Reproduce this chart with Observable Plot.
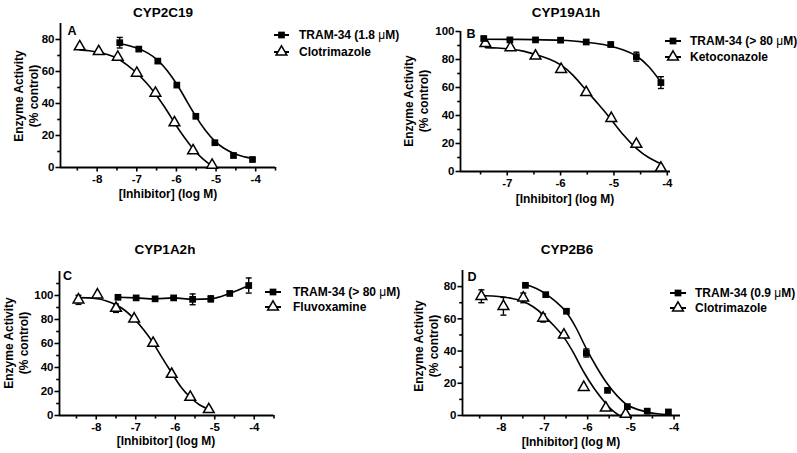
<!DOCTYPE html>
<html><head><meta charset="utf-8">
<script src="https://cdn.jsdelivr.net/npm/d3@7"></script>
<script src="https://cdn.jsdelivr.net/npm/@observablehq/plot@0.6"></script>
<style>
body{margin:0;background:#fff;}
#fig{position:relative;width:797px;height:453px;font-family:"Liberation Sans",Arial,sans-serif;font-weight:bold;color:#000;overflow:hidden;background:#fff}
.t{position:absolute;white-space:nowrap;line-height:1;}
svg{position:absolute;overflow:visible}
</style></head><body><div id="fig"></div>
<script>
// ---------------- DATA ----------------
// Panel A: CYP2C19
const aTramX = [-7.43,-6.95,-6.47,-5.99,-5.51,-5.03,-4.56,-4.08];
const aTramY = [78,74,66.5,51.5,32,15.5,7.5,5];
const aTramErr = [3.3,0,0,0,0,0,0,0];
const aRefX = [-8.44,-7.96,-7.48,-7.0,-6.53,-6.05,-5.58,-5.1];
const aRefY = [75.5,72.5,69,59,46.5,28,10.5,1.5];
const aRefErr = [0,0,0,0,0,0,0,0];
const aTramFitX = [-7.43,-7.19,-6.95,-6.71,-6.47,-6.23,-5.99,-5.75,-5.51,-5.27,-5.03,-4.8,-4.56,-4.32,-4.08];
const aTramFitY = [77.5,76.1,74.2,71.3,67,60.5,52,42,32,23.3,16.5,12,8.9,6.9,5.7];
const aRefFitX = [-8.44,-8.2,-7.96,-7.72,-7.48,-7.24,-7.0,-6.76,-6.53,-6.29,-6.05,-5.82,-5.58,-5.34,-5.1];
const aRefFitY = [73.5,73,72,70.5,68,64,59,53,46,37.5,28,19.5,11.7,5.5,0.8];

// Panel B: CYP19A1h
const bTramX = [-7.44,-6.95,-6.47,-6.0,-5.52,-5.06,-4.58,-4.12];
const bTramY = [95,94,94,93.8,92.5,90.7,82,63.5];
const bTramErr = [1,0.5,0.5,1.2,1.5,1.5,3.2,4.2];
const bRefX = [-7.41,-6.94,-6.47,-5.99,-5.52,-5.05,-4.58,-4.12];
const bRefY = [91.5,88.5,82.5,73,56.5,38,19.5,2.5];
const bRefErr = [1.5,0,0,0,0,0,0,0];
const bTramFitX = [-7.44,-6.95,-6.47,-6.0,-5.76,-5.52,-5.29,-5.06,-4.82,-4.58,-4.35,-4.12];
const bTramFitY = [94.5,94.4,94.2,93.8,93.2,92.3,91.2,89.5,86.8,82.5,75,64];
const bRefFitX = [-7.41,-7.18,-6.94,-6.7,-6.47,-6.23,-5.99,-5.76,-5.52,-5.29,-5.05,-4.82,-4.58,-4.35,-4.12];
const bRefFitY = [88.5,88.2,87.5,86,83.5,80.5,76,68.5,58,48,37,26,16.5,10,5.5];

// Panel C: CYP1A2h
const cTramX = [-7.45,-6.99,-6.51,-6.04,-5.56,-5.1,-4.62,-4.14];
const cTramY = [98.5,98,97.2,98,96.8,97.2,101.7,108.3];
const cTramErr = [1,0.5,0.5,1,4.5,2.5,1.5,6.3];
const cRefX = [-8.45,-7.97,-7.5,-7.04,-6.56,-6.09,-5.62,-5.15];
const cRefY = [96.4,100.6,89.4,80.6,60.3,34.4,15.3,5];
const cRefErr = [3.8,0,3.5,0,0,0,0,0];
const cRefFitX = [-8.45,-8.21,-7.97,-7.74,-7.5,-7.27,-7.04,-6.8,-6.56,-6.33,-6.09,-5.86,-5.62,-5.39,-5.15];
const cRefFitY = [98.2,98,97.3,95.5,92.3,87.5,80.5,71.5,60.5,48,35.5,24,15.2,9,5.2];

// Panel D: CYP2B6
const dTramX = [-7.44,-6.97,-6.49,-6.03,-5.54,-5.08,-4.62,-4.13];
const dTramY = [80.8,75,64.7,38.8,15.6,5.5,2.7,2.2];
const dTramErr = [0,0,0,2.5,0,0,0,0];
const dRefX = [-8.46,-7.95,-7.49,-7.03,-6.55,-6.09,-5.58,-5.12];
const dRefY = [74,67.8,73,60.5,50,17.5,4.7,0.8];
const dRefErr = [4,5.5,3,2.5,0,0,0,0];
const dTramFitX = [-7.44,-7.2,-6.97,-6.73,-6.49,-6.26,-6.03,-5.78,-5.54,-5.31,-5.08,-4.85,-4.62,-4.38,-4.13];
const dTramFitY = [81.3,79,75.5,70.5,64,54,41.5,29.5,19.5,12,6.5,3.8,2.1,1.1,0.6];
const dRefFitX = [-8.46,-8.2,-7.95,-7.72,-7.49,-7.26,-7.03,-6.79,-6.55,-6.32,-6.09,-5.84,-5.58,-5.42,-5.27];
const dRefFitY = [74.5,74.2,73.6,72.5,70.8,67.5,62.5,56,48.5,38.5,27,16.5,7.5,3,0];

// Axis ticks
const xMajor9 = [-8,-7,-6,-5,-4];
const xMinor9 = [-8.5,-7.5,-6.5,-5.5,-4.5,-3.5];
const xMinorD = [-8.5,-7.5,-6.5,-5.5,-4.5];
const xMajorB = [-7,-6,-5,-4];
const xMinorB = [-7.5,-6.5,-5.5,-4.5];
const yMajor80 = [0,20,40,60,80];
const yMinor80 = [10,30,50,70];
const yMajor100 = [0,20,40,60,80,100];
const yMinor100 = [10,30,50,70,90];
const yMinor120 = [10,30,50,70,90,110];

// Texts
const titles = ["CYP2C19","CYP19A1h","CYP1A2h","CYP2B6"];
const letters = ["A","B","C","D"];
const tramLabels = ["TRAM-34 (1.8 μM)","TRAM-34 (> 80 μM)","TRAM-34 (> 80 μM)","TRAM-34 (0.9 μM)"];
const refLabels = ["Clotrimazole","Ketoconazole","Fluvoxamine","Clotrimazole"];
const yLabel1 = "Enzyme Activity";
const yLabel2 = "(% control)";
const xLabel = "[Inhibitor] (log M)";

// ---------------- DRAWING ----------------
const FONT = '"Liberation Sans", Arial, sans-serif';
const fig = document.getElementById("fig");
const rows = (xs, ys, es) => xs.map((x, i) => ({x, y: ys[i], e: es ? es[i] : 0}));
const cap = {draw(ctx) { ctx.moveTo(-3, 0); ctx.lineTo(3, 0); }};

const panels = [
  {left:0, top:0, w:400, h:226, fx0:60, fx1:275, fyTop:23, fyBot:167, xDomain:[-8.925,-3.5], yDomain:[0,90],
   xMajor:xMajor9, xMinor:xMinor9, yMajor:yMajor80, yMinor:yMinor80,
   tram:rows(aTramX,aTramY,aTramErr), ref:rows(aRefX,aRefY,aRefErr),
   tramFit:rows(aTramFitX,aTramFitY), refFit:rows(aRefFitX,aRefFitY),
   title:[163,13], letter:[72,31], yl:[18.5,33.5,96], xl:[168,194], leg:[274,289,299,35,51.7]},
  {left:400, top:0, w:397, h:226, fx0:460, fx1:670, fyTop:31, fyBot:171, xDomain:[-7.876,-3.94], yDomain:[0,100],
   xMajor:xMajorB, xMinor:xMinorB, yMajor:yMajor100, yMinor:yMinor100,
   tram:rows(bTramX,bTramY,bTramErr), ref:rows(bRefX,bRefY,bRefErr),
   tramFit:rows(bTramFitX,bTramFitY), refFit:rows(bRefFitX,bRefFitY),
   title:[566,13], letter:[471,34], yl:[408.5,423.5,101], xl:[565,199], leg:[665,681,690,40.7,56.5]},
  {left:0, top:226, w:400, h:227, fx0:59, fx1:273.5, fyTop:271, fyBot:415, xDomain:[-8.93,-3.5], yDomain:[0,120],
   xMajor:xMajor9, xMinor:xMinor9, yMajor:yMajor100, yMinor:yMinor120,
   tram:rows(cTramX,cTramY,cTramErr), ref:rows(cRefX,cRefY,cRefErr),
   tramFit:null, refFit:rows(cRefFitX,cRefFitY),
   title:[165,250], letter:[67.5,276], yl:[8.5,23.5,343], xl:[166,441], leg:[265,281,293,291.5,306.5]},
  {left:400, top:226, w:397, h:227, fx0:462, fx1:680, fyTop:270, fyBot:415, xDomain:[-8.897,-3.85], yDomain:[0,90],
   xMajor:xMajor9, xMinor:xMinorD, yMajor:yMajor80, yMinor:yMinor80,
   tram:rows(dTramX,dTramY,dTramErr), ref:rows(dRefX,dRefY,dRefErr),
   tramFit:rows(dTramFitX,dTramFitY), refFit:rows(dRefFitX,dRefFitY),
   title:[567,250], letter:[472,277], yl:[418.5,433.5,346], xl:[571,442], leg:[670,686,695,292.5,308]}
];

function text(str, x, y, size, mode) {
  const d = document.createElement("div");
  d.className = "t";
  d.innerHTML = str.replace("μ", '<span style="font-weight:normal">μ</span>');
  d.style.left = x + "px"; d.style.top = y + "px"; d.style.fontSize = size + "px";
  d.style.transform = mode === "rot" ? "translate(-50%,-50%) rotate(-90deg)" :
                      mode === "left" ? "translate(0,-50%)" : "translate(-50%,-50%)";
  fig.appendChild(d);
}

panels.forEach((p, k) => {
  const all = [...p.tram, ...p.ref].filter(d => d.e > 0);
  const marks = [
    Plot.axisX(p.xMajor, {tickSize: 4.5, tickPadding: 3, strokeWidth: 1.6, tickFormat: d => String(d), label: null, fontSize: 11.5}),
    Plot.axisX(p.xMinor, {tickSize: 3.5, strokeWidth: 1.6, tickFormat: () => "", label: null}),
    Plot.axisY(p.yMajor, {tickSize: 4.5, tickPadding: 1.5, strokeWidth: 1.6, tickFormat: d => String(d), label: null, fontSize: 11.5}),
    Plot.axisY(p.yMinor, {tickSize: 2.8, strokeWidth: 1.6, tickFormat: () => "", label: null}),
    Plot.ruleY([p.yDomain[0]], {stroke: "black", strokeWidth: 1.8}),
    Plot.ruleX([p.xDomain[0]], {stroke: "black", strokeWidth: 1.8}),
    Plot.line(p.refFit, {x: "x", y: "y", curve: "natural", stroke: "black", strokeWidth: 1.6}),
    p.tramFit ? Plot.line(p.tramFit, {x: "x", y: "y", curve: "natural", stroke: "black", strokeWidth: 1.6})
              : Plot.line(p.tram, {x: "x", y: "y", curve: "monotone-x", stroke: "black", strokeWidth: 1.6}),
    Plot.ruleX(all, {x: "x", y1: d => d.y - d.e, y2: d => d.y + d.e, stroke: "black", strokeWidth: 1.4}),
    Plot.dot(all, {x: "x", y: d => d.y + d.e, symbol: cap, stroke: "black", strokeWidth: 1.4}),
    Plot.dot(all, {x: "x", y: d => d.y - d.e, symbol: cap, stroke: "black", strokeWidth: 1.4}),
    Plot.dot(p.ref, {x: "x", y: "y", symbol: "triangle", r: 4, fill: "white", stroke: "black", strokeWidth: 1.5}),
    Plot.dot(p.tram, {x: "x", y: "y", symbol: "square", r: 3.8, fill: "black", stroke: "none"})
  ];
  const svg = Plot.plot({
    width: p.w, height: p.h,
    marginLeft: p.fx0 - p.left, marginRight: p.left + p.w - p.fx1,
    marginTop: p.fyTop - p.top, marginBottom: p.top + p.h - p.fyBot,
    x: {domain: p.xDomain}, y: {domain: p.yDomain},
    style: {fontFamily: FONT, fontSize: "11.5px", fontWeight: "bold", color: "black", background: "transparent", overflow: "visible"},
    marks
  });
  svg.style.position = "absolute";
  svg.style.left = p.left + "px";
  svg.style.top = p.top + "px";
  fig.appendChild(svg);

  text(titles[k], p.title[0], p.title[1], 13.5);
  text(letters[k], p.letter[0], p.letter[1], 12.5);
  text(yLabel1, p.yl[0], p.yl[2], 12, "rot");
  text(yLabel2, p.yl[1], p.yl[2], 12, "rot");
  text(xLabel, p.xl[0], p.xl[1], 12);

  // legend
  const [lx0, lx1, tx, r1, r2] = p.leg;
  [[r1, d3.symbolSquare, "black", "none", tramLabels[k], 3.8],
   [r2, d3.symbolTriangle, "white", "black", refLabels[k], 4]].forEach(([ry, sym, fill, stroke, lab, r]) => {
    const s = d3.select(fig).append("svg")
      .style("left", (lx0 - 2) + "px").style("top", (ry - 8) + "px")
      .attr("width", lx1 - lx0 + 4).attr("height", 16);
    s.append("line").attr("x1", 2).attr("x2", lx1 - lx0 + 2).attr("y1", 8).attr("y2", 8)
      .attr("stroke", "black").attr("stroke-width", 2);
    s.append("path").attr("d", d3.symbol(sym, Math.PI * r * r)())
      .attr("transform", `translate(${(lx1 - lx0) / 2 + 2},8)`)
      .attr("fill", fill).attr("stroke", stroke).attr("stroke-width", 1.5);
    text(lab, tx, ry, 12, "left");
  });
});
</script></body></html>
